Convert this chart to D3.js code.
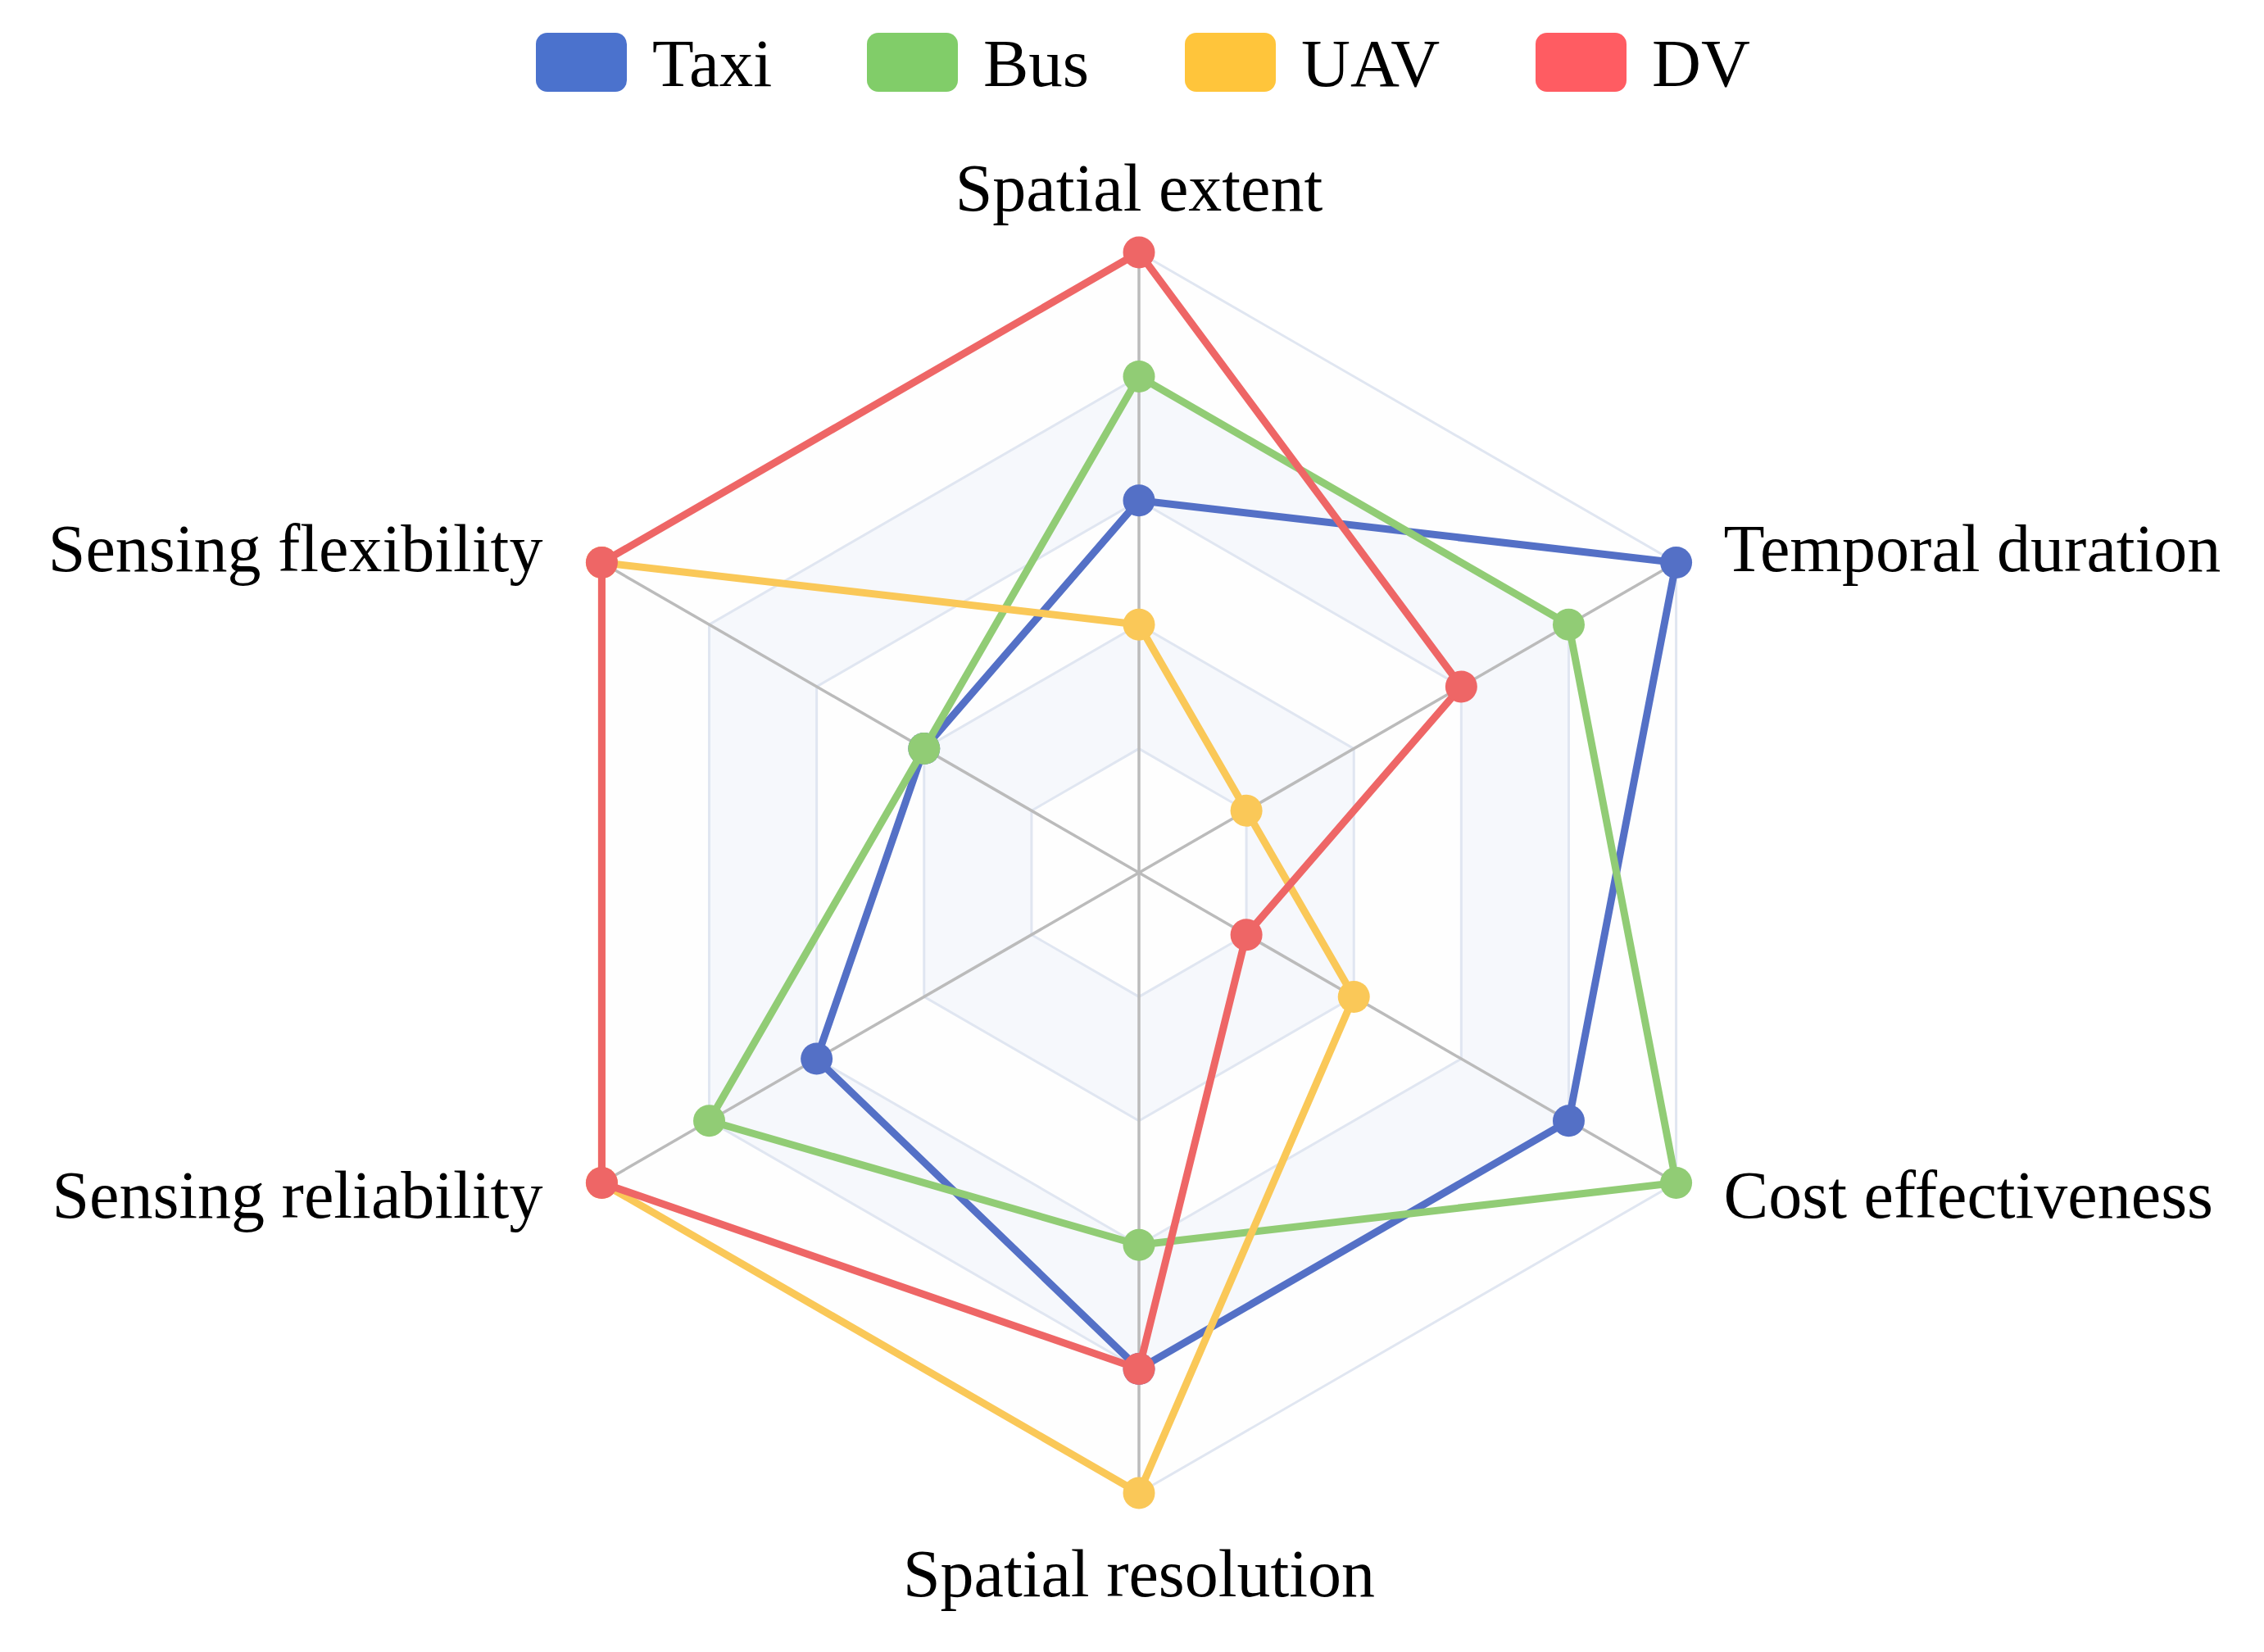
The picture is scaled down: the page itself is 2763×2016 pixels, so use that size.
<!DOCTYPE html>
<html>
<head>
<meta charset="utf-8">
<script src="https://cdn.jsdelivr.net/npm/d3@7"></script>
<style>
  html, body { margin: 0; padding: 0; background: #fff; }
  svg { display: block; }
  text { font-family: "Liberation Serif", "Times New Roman", serif; fill: #000; }
</style>
</head>
<body>
<div id="chart"></div>
<script>
// data
var indicators = ["Spatial extent", "Temporal duration", "Cost effectiveness",
                  "Spatial resolution", "Sensing reliability", "Sensing flexibility"];
var seriesNames = ["Taxi", "Bus", "UAV", "DV"];
var taxiValues = [3, 5, 4, 4, 3, 2];
var busValues  = [4, 4, 5, 3, 4, 2];
var uavValues  = [2, 1, 2, 5, 5, 5];
var dvValues   = [5, 3, 1, 4, 5, 5];
var maxValue = 5;
var levels = [1, 2, 3, 4, 5];

var lineColors   = ["#5470c6", "#91cc75", "#fac858", "#ee6666"];
var legendColors = ["#4b72cd", "#81cd69", "#ffc53b", "#ff5c62"];

var width = 2763, height = 2016;
var cx = 1390, cy = 1065, R = 757;
var labelSize = 82, legendSize = 83;

var svg = d3.select("#chart").append("svg")
    .attr("width", width).attr("height", height);

var r = d3.scaleLinear().domain([0, maxValue]).range([0, R]);
var angle = d3.scaleLinear().domain([0, indicators.length]).range([0, 2 * Math.PI]);

var radial = d3.lineRadial()
    .angle(function(d, i) { return angle(i); })
    .radius(function(d) { return r(d); })
    .curve(d3.curveLinearClosed);

function pt(i, v) {
    var a = angle(i);
    return [cx + r(v) * Math.sin(a), cy - r(v) * Math.cos(a)];
}

var g = svg.append("g").attr("transform", "translate(" + cx + "," + cy + ")");

// split areas (alternating bands)
var bandFill = ["rgba(250,250,250,0.2)", "rgba(210,219,238,0.2)"];
[0].concat(levels).slice(0, -1).forEach(function(lo, k) {
    var hi = levels[k];
    var outer = radial(indicators.map(function() { return hi; }));
    var inner = lo > 0 ? radial(indicators.map(function() { return lo; })) : "";
    g.append("path")
        .attr("d", outer + inner)
        .attr("fill-rule", "evenodd")
        .attr("fill", bandFill[k % 2]);
});

// split lines
g.selectAll(".split").data(levels).enter().append("path")
    .attr("class", "split")
    .attr("d", function(l) { return radial(indicators.map(function() { return l; })); })
    .attr("fill", "none")
    .attr("stroke", "#e0e6f1")
    .attr("stroke-width", 3);

// axis lines
g.selectAll(".axisline").data(indicators).enter().append("line")
    .attr("x1", 0).attr("y1", 0)
    .attr("x2", function(d, i) { return r(maxValue) * Math.sin(angle(i)); })
    .attr("y2", function(d, i) { return -r(maxValue) * Math.cos(angle(i)); })
    .attr("stroke", "#bbbbbb")
    .attr("stroke-width", 3.5);

// axis names
var sin60 = Math.sin(Math.PI / 3);
var labelPos = [
    {x: cx, y: cy - R - 51, anchor: "middle"},
    {x: cx + R * sin60 + 58, y: cy - R / 2 + 10, anchor: "start"},
    {x: cx + R * sin60 + 58, y: cy + R / 2 + 42, anchor: "start"},
    {x: cx, y: cy + R + 126, anchor: "middle"},
    {x: cx - R * sin60 - 72, y: cy + R / 2 + 42, anchor: "end"},
    {x: cx - R * sin60 - 72, y: cy - R / 2 + 10, anchor: "end"}
];
svg.selectAll(".axisname").data(indicators).enter().append("text")
    .attr("class", "axisname")
    .attr("x", function(d, i) { return labelPos[i].x; })
    .attr("y", function(d, i) { return labelPos[i].y; })
    .attr("text-anchor", function(d, i) { return labelPos[i].anchor; })
    .style("font-size", labelSize + "px")
    .text(function(d) { return d; });

// series
var allValues = [taxiValues, busValues, uavValues, dvValues];
allValues.forEach(function(vals, s) {
    var sg = svg.append("g").attr("class", "series");
    sg.append("path")
        .attr("transform", "translate(" + cx + "," + cy + ")")
        .attr("d", radial(vals))
        .attr("fill", "none")
        .attr("stroke", lineColors[s])
        .attr("stroke-width", 9)
        .attr("stroke-linejoin", "round");
    sg.selectAll("circle").data(vals).enter().append("circle")
        .attr("cx", function(d, i) { return pt(i, d)[0]; })
        .attr("cy", function(d, i) { return pt(i, d)[1]; })
        .attr("r", 19.5)
        .attr("fill", lineColors[s]);
});

// legend
var legendX = [654, 1058, 1446, 1874];
var legend = svg.append("g").attr("class", "legend");
seriesNames.forEach(function(name, i) {
    legend.append("rect")
        .attr("x", legendX[i]).attr("y", 40)
        .attr("width", 111).attr("height", 72)
        .attr("rx", 14).attr("ry", 14)
        .attr("fill", legendColors[i]);
    legend.append("text")
        .attr("x", legendX[i] + 142).attr("y", 105)
        .style("font-size", legendSize + "px")
        .text(name);
});
</script>
</body>
</html>
